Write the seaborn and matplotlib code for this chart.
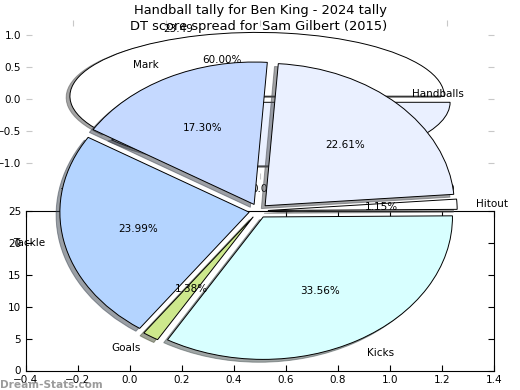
import matplotlib
matplotlib.use("Agg")
import matplotlib.pyplot as plt
import seaborn as sns

title_top = "Handball tally for Ben King - 2024 tally"
title_main = "DT score spread for Sam Gilbert (2015)"
watermark = "Dream-Stats.com"

stat_labels = ["Mark", "Tackle", "Goals", "Kicks", "Hitout", "Handballs"]
stat_shares = [17.30, 23.99, 1.38, 33.56, 1.15, 22.61]
stat_colors = ["#c5d9ff", "#b4d4ff", "#cde88c", "#d8ffff", "#ffffff", "#eaf0ff"]

tally_labels = ["23.49", ""]
tally_shares = [60.0, 40.0]
tally_colors = ["#ffffff", "#eaf0ff"]

grid_xticks = [-0.4, -0.2, 0.0, 0.2, 0.4, 0.6, 0.8, 1.0, 1.2, 1.4]
grid_yticks = [0, 5, 10, 15, 20, 25]
pie_ticks = [-1.0, -0.5, 0.0, 0.5, 1.0]

sns.set_theme(style="white")
plt.rcParams.update({
    "font.family": ["DejaVu Sans"],
    "font.size": 7.5,
    "xtick.direction": "in",
    "ytick.direction": "in",
    "xtick.top": True,
    "ytick.right": True,
    "xtick.bottom": True,
    "ytick.left": True,
    "xtick.major.size": 4,
    "ytick.major.size": 4,
    "xtick.major.width": 0.8,
    "ytick.major.width": 0.8,
    "xtick.major.pad": 3.5,
    "ytick.major.pad": 3.5,
    "xtick.labelsize": 7.5,
    "ytick.labelsize": 7.5,
    "xtick.color": "black",
    "ytick.color": "black",
    "axes.edgecolor": "black",
    "axes.linewidth": 0.8,
    "axes.facecolor": "white",
    "figure.facecolor": "white",
    "text.color": "black",
})

fig = plt.figure(figsize=(5.2, 3.9), dpi=100)
ax_top = fig.add_axes([0.05, 0.541, 0.9, 0.409])
ax_grid = fig.add_axes([0.05, 0.05, 0.9, 0.409])
ax_pie = fig.add_axes([0.042, 0.003, 0.91, 0.913])

wedge_style = dict(edgecolor="black", linewidth=0.7)
shadow_style = dict(ox=-0.0144, oy=-0.0144, shade=0.7)

# top tally pie
ax_top.pie(tally_shares, labels=tally_labels, colors=tally_colors,
           explode=[0.05] * len(tally_shares), startangle=0, shadow=shadow_style,
           autopct="%1.2f%%", wedgeprops=wedge_style,
           textprops=dict(fontsize=7.5, color="black"))
ax_top.set_aspect("auto")
ax_top.set_xlim(-1.25, 1.25)
ax_top.set_ylim(-1.25, 1.25)
ax_top.set_xticks(pie_ticks)
ax_top.set_yticks(pie_ticks)
ax_top.tick_params(axis="both", which="both", color="#c8c8c8", labelcolor="black",
                   direction="in", top=True, right=True, labelsize=7.5)
ax_top.set_frame_on(False)
ax_top.set_title(title_top, fontsize=9.4, pad=4)

# empty framed grid axes
ax_grid.set_xlim(grid_xticks[0], grid_xticks[-1])
ax_grid.set_ylim(grid_yticks[0], grid_yticks[-1])
ax_grid.set_xticks(grid_xticks)
ax_grid.set_yticks(grid_yticks)
for s in ax_grid.spines.values():
    s.set_visible(True)
    s.set_color("black")
ax_grid.tick_params(axis="both", color="black", direction="in", top=True, right=True)

# main stat pie
ax_pie.pie(stat_shares, labels=stat_labels, colors=sns.color_palette(stat_colors),
           explode=[0.05] * len(stat_shares), startangle=86, shadow=shadow_style,
           autopct="%1.2f%%", wedgeprops=wedge_style,
           textprops=dict(fontsize=7.5, color="black"))
ax_pie.set_aspect("auto")
ax_pie.set_xlim(-1.25, 1.25)
ax_pie.set_ylim(-1.25, 1.25)
ax_pie.set_frame_on(False)
ax_pie.set_title(title_main, fontsize=9.4, pad=2.3)

fig.text(0.0, 0.006, watermark, color="#7a7a7a", alpha=0.75, fontsize=7.6,
         fontweight="bold", ha="left", va="baseline")

fig.savefig("out.png", dpi=100)
